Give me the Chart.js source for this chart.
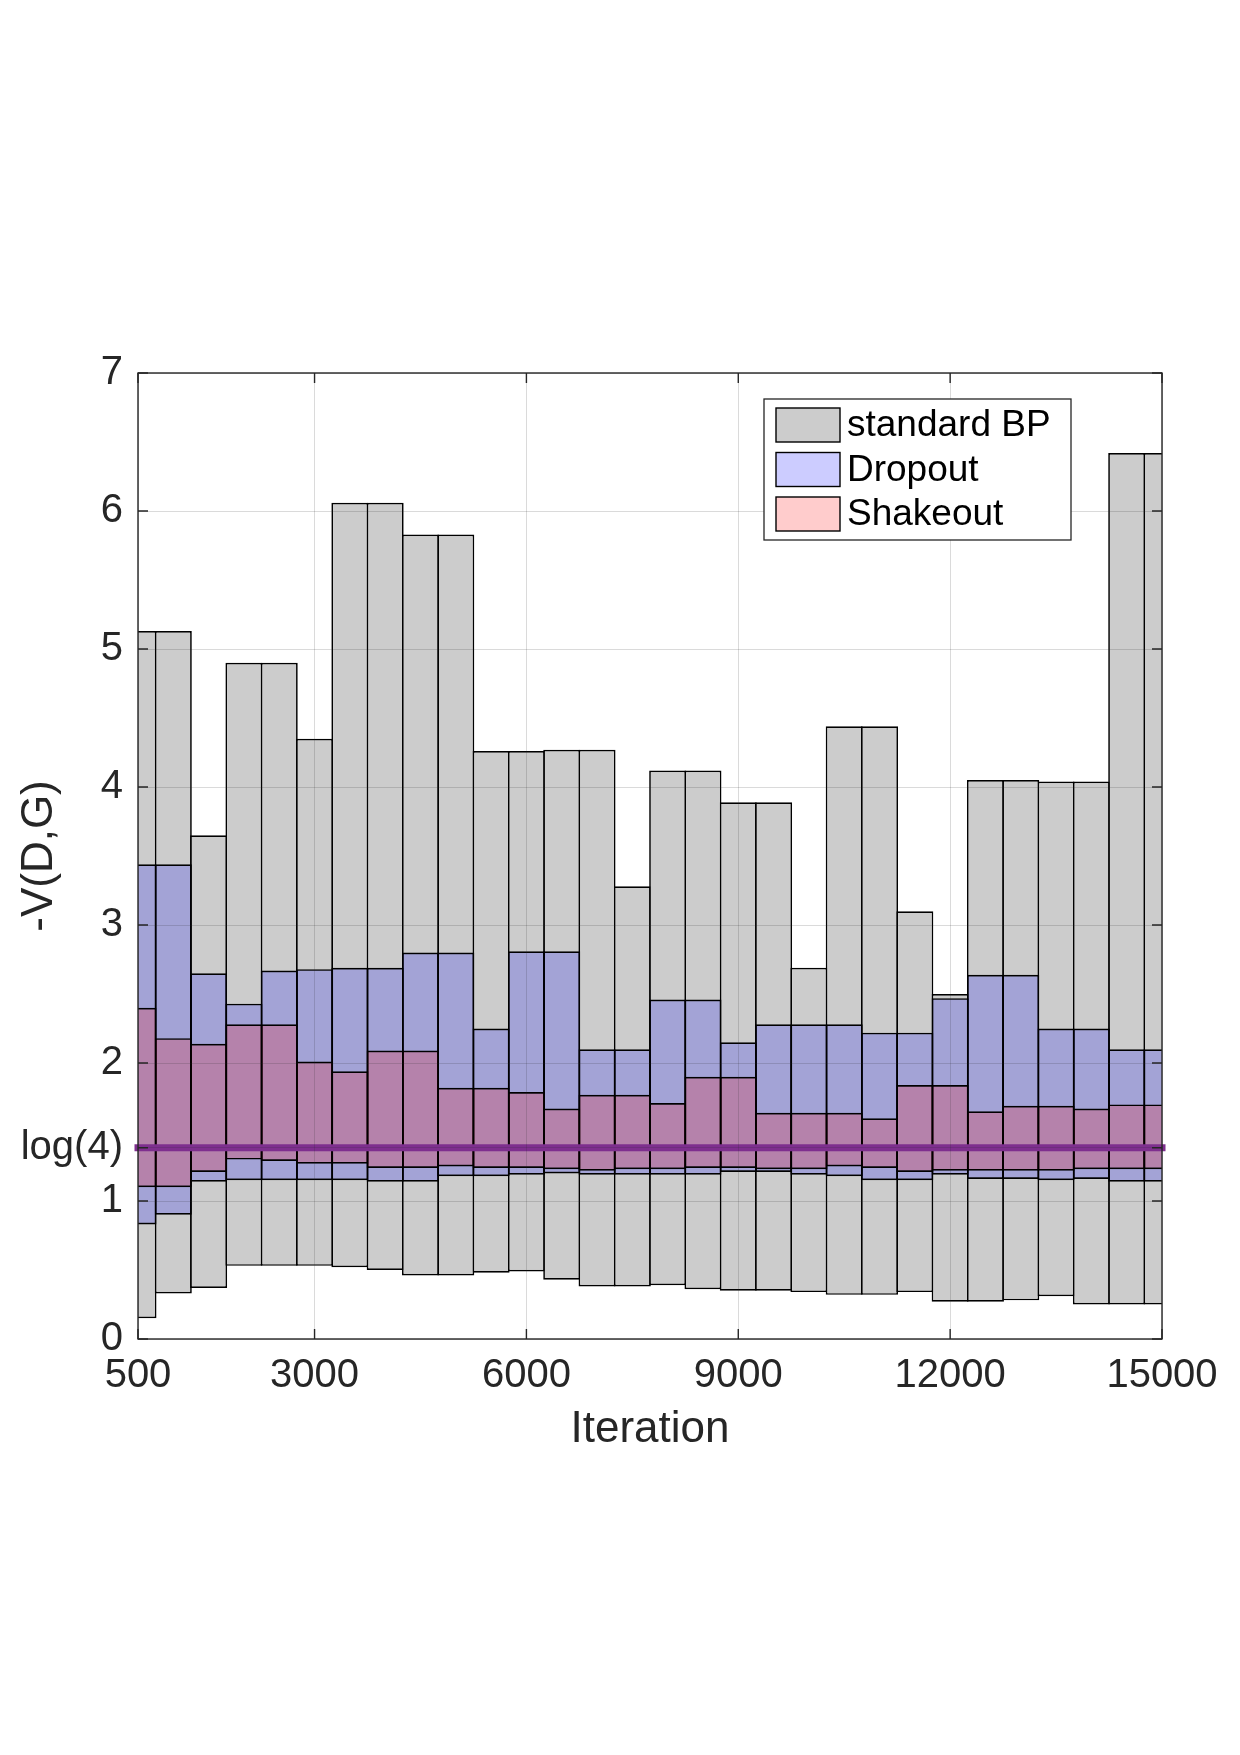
<!DOCTYPE html>
<html>
<head>
<meta charset="utf-8">
<script src="https://cdn.jsdelivr.net/npm/chart.js@4.4.1/dist/chart.umd.min.js"></script>
<style>
  html, body { margin: 0; padding: 0; background: #fff; }
  #wrap { width: 1240px; height: 1755px; }
</style>
</head>
<body>
<div id="wrap"><canvas id="chart" width="1240" height="1755"></canvas></div>
<script>
// iteration of each bar (bars are 500 wide, centred on these)
const iterations = [500, 1000, 1500, 2000, 2500, 3000, 3500, 4000, 4500, 5000,
                    5500, 6000, 6500, 7000, 7500, 8000, 8500, 9000, 9500, 10000,
                    10500, 11000, 11500, 12000, 12500, 13000, 13500, 14000, 14500, 15000];

// -V(D,G) range per bin, standard BP
const bpMin = [0.15, 0.33, 0.37, 0.53, 0.53, 0.53, 0.52, 0.50, 0.46, 0.46,
               0.48, 0.49, 0.43, 0.38, 0.38, 0.39, 0.36, 0.35, 0.35, 0.34,
               0.32, 0.32, 0.34, 0.27, 0.27, 0.28, 0.31, 0.25, 0.25, 0.25];
const bpMax = [5.13, 5.13, 3.65, 4.90, 4.90, 4.35, 6.06, 6.06, 5.83, 5.83,
               4.26, 4.26, 4.27, 4.27, 3.28, 4.12, 4.12, 3.89, 3.89, 2.69,
               4.44, 4.44, 3.10, 2.50, 4.05, 4.05, 4.04, 4.04, 6.42, 6.42];

// Dropout
const dropMin = [0.83, 0.90, 1.14, 1.15, 1.15, 1.15, 1.15, 1.14, 1.14, 1.18,
                 1.18, 1.19, 1.20, 1.19, 1.19, 1.19, 1.19, 1.21, 1.21, 1.19,
                 1.18, 1.15, 1.15, 1.19, 1.16, 1.16, 1.15, 1.16, 1.14, 1.14];
const dropMax = [3.44, 3.44, 2.65, 2.43, 2.67, 2.68, 2.69, 2.69, 2.80, 2.80,
                 2.25, 2.81, 2.81, 2.10, 2.10, 2.46, 2.46, 2.15, 2.28, 2.28,
                 2.28, 2.22, 2.22, 2.47, 2.64, 2.64, 2.25, 2.25, 2.10, 2.10];

// Shakeout
const shakeMin = [1.10, 1.10, 1.21, 1.30, 1.29, 1.27, 1.27, 1.24, 1.24, 1.25,
                  1.24, 1.24, 1.23, 1.22, 1.23, 1.23, 1.24, 1.24, 1.23, 1.23,
                  1.25, 1.24, 1.21, 1.22, 1.22, 1.22, 1.22, 1.23, 1.23, 1.23];
const shakeMax = [2.40, 2.18, 2.14, 2.28, 2.28, 2.01, 1.94, 2.09, 2.09, 1.82,
                  1.82, 1.79, 1.67, 1.77, 1.77, 1.71, 1.90, 1.90, 1.64, 1.64,
                  1.64, 1.60, 1.84, 1.84, 1.65, 1.69, 1.69, 1.67, 1.70, 1.70];

// reference level and axis ticks
const LOG4 = Math.log(4);
const refSpan = [500, 15000];
const xTicks = [500, 3000, 6000, 9000, 12000, 15000];
const yTicks = [0, 1, LOG4, 2, 3, 4, 5, 6, 7];

const TEXT = '#262626';
const GRID = 'rgba(38,38,38,0.17)';
const EDGE = '#000000';
Chart.defaults.font.family = "'Liberation Sans', Arial, Helvetica, sans-serif";

const toRange = (lo, hi) => iterations.map((x, i) => ({ x: x, y: [lo[i], hi[i]] }));

function barSet(label, lo, hi, fill, order) {
    return {
        type: 'bar',
        label: label,
        data: toRange(lo, hi),
        backgroundColor: fill,
        borderColor: EDGE,
        borderWidth: 1.7,
        borderSkipped: false,
        grouped: false,
        categoryPercentage: 1,
        barPercentage: 1.048,   // slight overlap so neighbouring edges share one line
        inflateAmount: 0,
        clip: 0,
        order: order
    };
}

// box, inward tick marks (MATLAB style)
const axisBox = {
    id: 'axisBox',
    afterDraw(chart) {
        const { ctx, chartArea: a, scales } = chart;
        ctx.save();
        ctx.strokeStyle = TEXT;
        ctx.lineWidth = 1.4;
        ctx.strokeRect(a.left, a.top, a.right - a.left, a.bottom - a.top);
        ctx.beginPath();
        scales.x.ticks.forEach(t => {
            const px = scales.x.getPixelForValue(t.value);
            ctx.moveTo(px, a.bottom); ctx.lineTo(px, a.bottom - 10);
            ctx.moveTo(px, a.top); ctx.lineTo(px, a.top + 10);
        });
        scales.y.ticks.forEach(t => {
            const py = scales.y.getPixelForValue(t.value);
            ctx.moveTo(a.left, py); ctx.lineTo(a.left + 10, py);
            ctx.moveTo(a.right, py); ctx.lineTo(a.right - 10, py);
        });
        ctx.stroke();
        ctx.restore();
    }
};

// legend box inside the plot, top right
const boxLegend = {
    id: 'boxLegend',
    afterDraw(chart) {
        const ctx = chart.ctx;
        const items = chart.data.datasets.filter(d => d.type === 'bar');
        const box = { x: 764, y: 399, w: 307, h: 141 };
        ctx.save();
        ctx.fillStyle = '#fff';
        ctx.fillRect(box.x, box.y, box.w, box.h);
        ctx.strokeStyle = TEXT;
        ctx.lineWidth = 1.3;
        ctx.strokeRect(box.x, box.y, box.w, box.h);
        ctx.font = "37px 'Liberation Sans', Arial, sans-serif";
        ctx.textBaseline = 'middle';
        items.forEach((d, i) => {
            const sy = 408 + i * 44.5;
            ctx.fillStyle = d.backgroundColor;
            ctx.fillRect(776, sy, 64, 34);
            ctx.strokeStyle = EDGE;
            ctx.lineWidth = 1.4;
            ctx.strokeRect(776, sy, 64, 34);
            ctx.fillStyle = '#000';
            ctx.fillText(d.label, 847, sy + 18);
        });
        ctx.restore();
    }
};

new Chart(document.getElementById('chart'), {
    data: {
        datasets: [
            barSet('standard BP', bpMin, bpMax, '#cccccc', 3),
            barSet('Dropout', dropMin, dropMax, 'rgba(0,0,255,0.2)', 2),
            barSet('Shakeout', shakeMin, shakeMax, 'rgba(255,0,0,0.2)', 1),
            {
                type: 'line',
                label: 'log(4)',
                data: refSpan.map(x => ({ x: x, y: LOG4 })),
                borderColor: '#7E2F8E',
                borderWidth: 7,
                borderCapStyle: 'square',
                pointRadius: 0,
                fill: false,
                clip: false,
                order: 0
            }
        ]
    },
    options: {
        responsive: false,
        animation: false,
        events: [],
        layout: { padding: { left: 0, top: 373, right: 78, bottom: 296 } },
        plugins: {
            legend: { display: false },
            tooltip: { enabled: false }
        },
        scales: {
            x: {
                type: 'linear',
                min: 500,
                max: 15000,
                offset: false,
                afterBuildTicks: s => { s.ticks = xTicks.map(v => ({ value: v })); },
                afterFit: s => { s.height = 120; },
                grid: { color: GRID, lineWidth: 1, drawTicks: false, offset: false, z: 1 },
                border: { display: false },
                ticks: {
                    color: TEXT,
                    font: { size: 40 },
                    padding: 13,
                    maxRotation: 0,
                    autoSkip: false,
                    callback: v => String(v)
                },
                title: {
                    display: true,
                    text: 'Iteration',
                    color: TEXT,
                    font: { size: 44 },
                    padding: { top: 0, bottom: 3 }
                }
            },
            y: {
                min: 0,
                max: 7,
                afterBuildTicks: s => { s.ticks = yTicks.map(v => ({ value: v })); },
                afterFit: s => { s.width = 138; },
                grid: { color: GRID, lineWidth: 1, drawTicks: false, z: 1 },
                border: { display: false },
                ticks: {
                    color: TEXT,
                    font: { size: 40 },
                    padding: 15,
                    autoSkip: false,
                    callback: v => (v === LOG4 ? 'log(4)' : String(v))
                },
                title: {
                    display: true,
                    text: '-V(D,G)',
                    color: TEXT,
                    font: { size: 44 },
                    padding: { top: 13, bottom: 0 }
                }
            }
        }
    },
    plugins: [axisBox, boxLegend]
});
</script>
</body>
</html>
